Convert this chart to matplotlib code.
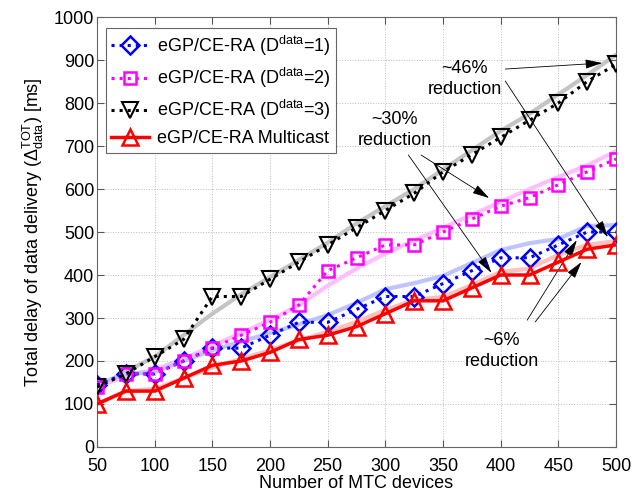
import numpy as np
import matplotlib.pyplot as plt

plt.rcParams['font.family'] = ['Liberation Sans', 'DejaVu Sans']
plt.rcParams['mathtext.fontset'] = 'custom'
plt.rcParams['mathtext.rm'] = 'Liberation Sans'
plt.rcParams['mathtext.it'] = 'Liberation Sans:italic'
plt.rcParams['font.size'] = 13

# data
n_mtc = [50, 75, 100, 125, 150, 175, 200, 225, 250, 275, 300, 325, 350, 375, 400, 425, 450, 475, 500]
d1 = [145, 170, 170, 200, 230, 230, 260, 290, 290, 320, 350, 350, 380, 410, 440, 440, 470, 500, 500]
d2 = [140, 170, 170, 200, 230, 260, 290, 330, 410, 440, 470, 470, 500, 530, 560, 580, 610, 640, 670]
d3 = [140, 170, 210, 250, 350, 350, 390, 430, 470, 510, 550, 590, 640, 680, 720, 760, 800, 850, 890]
mcast = [100, 130, 130, 160, 190, 200, 220, 250, 260, 280, 310, 340, 340, 370, 400, 400, 430, 460, 470]

# faint smoothed curves behind each series
d1_s = [145, 170, 175, 200, 225, 245, 265, 285, 307, 335, 367, 381, 398, 428, 458, 474, 484, 514, 516]
d2_s = [140, 165, 180, 205, 235, 265, 295, 330, 375, 415, 450, 480, 510, 540, 570, 600, 628, 655, 688]
d3_s = [140, 175, 210, 260, 310, 355, 395, 435, 475, 520, 560, 600, 645, 690, 735, 775, 820, 865, 912]
mcast_s = [100, 130, 135, 160, 185, 205, 225, 248, 268, 291, 319, 342, 349, 377, 407, 415, 447, 470, 479]

labels = [r'eGP/CE-RA (D$^{\mathrm{data}}$=1)', r'eGP/CE-RA (D$^{\mathrm{data}}$=2)',
          r'eGP/CE-RA (D$^{\mathrm{data}}$=3)', 'eGP/CE-RA Multicast']

fig = plt.figure(figsize=(6.32, 4.96), dpi=100)
ax = fig.add_axes([0.1535, 0.0988, 0.8212, 0.8669])

ax.plot(n_mtc, d3_s, '-', c='#c4c4c4', lw=3, zorder=2)
ax.plot(n_mtc, d2_s, '-', c='#ffbfff', lw=3, zorder=2)
ax.plot(n_mtc, d1_s, '-', c='#bfc4ff', lw=3, zorder=2)
ax.plot(n_mtc, mcast_s, '-', c='#ffc0c0', lw=3, zorder=2)

ax.plot(n_mtc, d1, ':', c='blue', lw=2.2, marker='D', ms=9, mfc='none', mew=1.8, label=labels[0], zorder=4)
ax.plot(n_mtc, d2, ':', c='magenta', lw=2.2, marker='s', ms=8.5, mfc='none', mew=1.8, label=labels[1], zorder=4)
ax.plot(n_mtc, d3, ':', c='black', lw=2.2, marker='v', ms=11, mfc='none', mew=1.5, label=labels[2], zorder=4)
ax.plot(n_mtc, mcast, '-', c='red', lw=2.5, marker='^', ms=11, mfc='none', mew=1.8, label=labels[3], zorder=4)

# annotations
arrow = dict(arrowstyle='-|>,head_length=0.8,head_width=0.22', color='black', lw=0.6, shrinkA=0, shrinkB=0)
ax.text(369, 856, '~46%\nreduction', ha='center', va='center', linespacing=1.3)
ax.annotate('', xy=(488, 893), xytext=(404, 879), arrowprops=arrow)
ax.annotate('', xy=(493, 488), xytext=(404, 851), arrowprops=arrow)
ax.text(308, 737, '~30%\nreduction', ha='center', va='center', linespacing=1.3)
ax.annotate('', xy=(390, 579), xytext=(331, 679), arrowprops=arrow)
ax.annotate('', xy=(392, 405), xytext=(320, 679), arrowprops=arrow)
ax.text(401, 223, '~6%\nreduction', ha='center', va='center', linespacing=1.3)
ax.annotate('', xy=(466, 481), xytext=(423, 295), arrowprops=arrow)
ax.annotate('', xy=(470, 430), xytext=(430, 291), arrowprops=arrow)

ax.set_xlim(50, 500)
ax.set_ylim(0, 1000)
ax.set_xticks(range(50, 501, 50))
ax.set_yticks(range(0, 1001, 100))
ax.grid(True, ls=':', c='#bbbbbb', lw=0.7)
ax.tick_params(direction='in', top=True, right=True, length=5, color='#555555', pad=2)
ax.tick_params(axis='x', pad=8)
for s in ax.spines.values():
    s.set_color('#666666')
ax.set_xlabel('Number of MTC devices', labelpad=0)
ax.set_ylabel(r'Total delay of data delivery ($\Delta_{\mathrm{data}}^{\mathrm{TOT}}$) [ms]', labelpad=6)

leg = ax.legend(loc='upper left', bbox_to_anchor=(0.0, 0.995), fancybox=False, framealpha=1,
                edgecolor='#666666', handlelength=2.1, borderpad=0.3, labelspacing=0.45, handletextpad=0.4)
leg.get_frame().set_linewidth(0.8)

fig.savefig('out.png', dpi=100)
